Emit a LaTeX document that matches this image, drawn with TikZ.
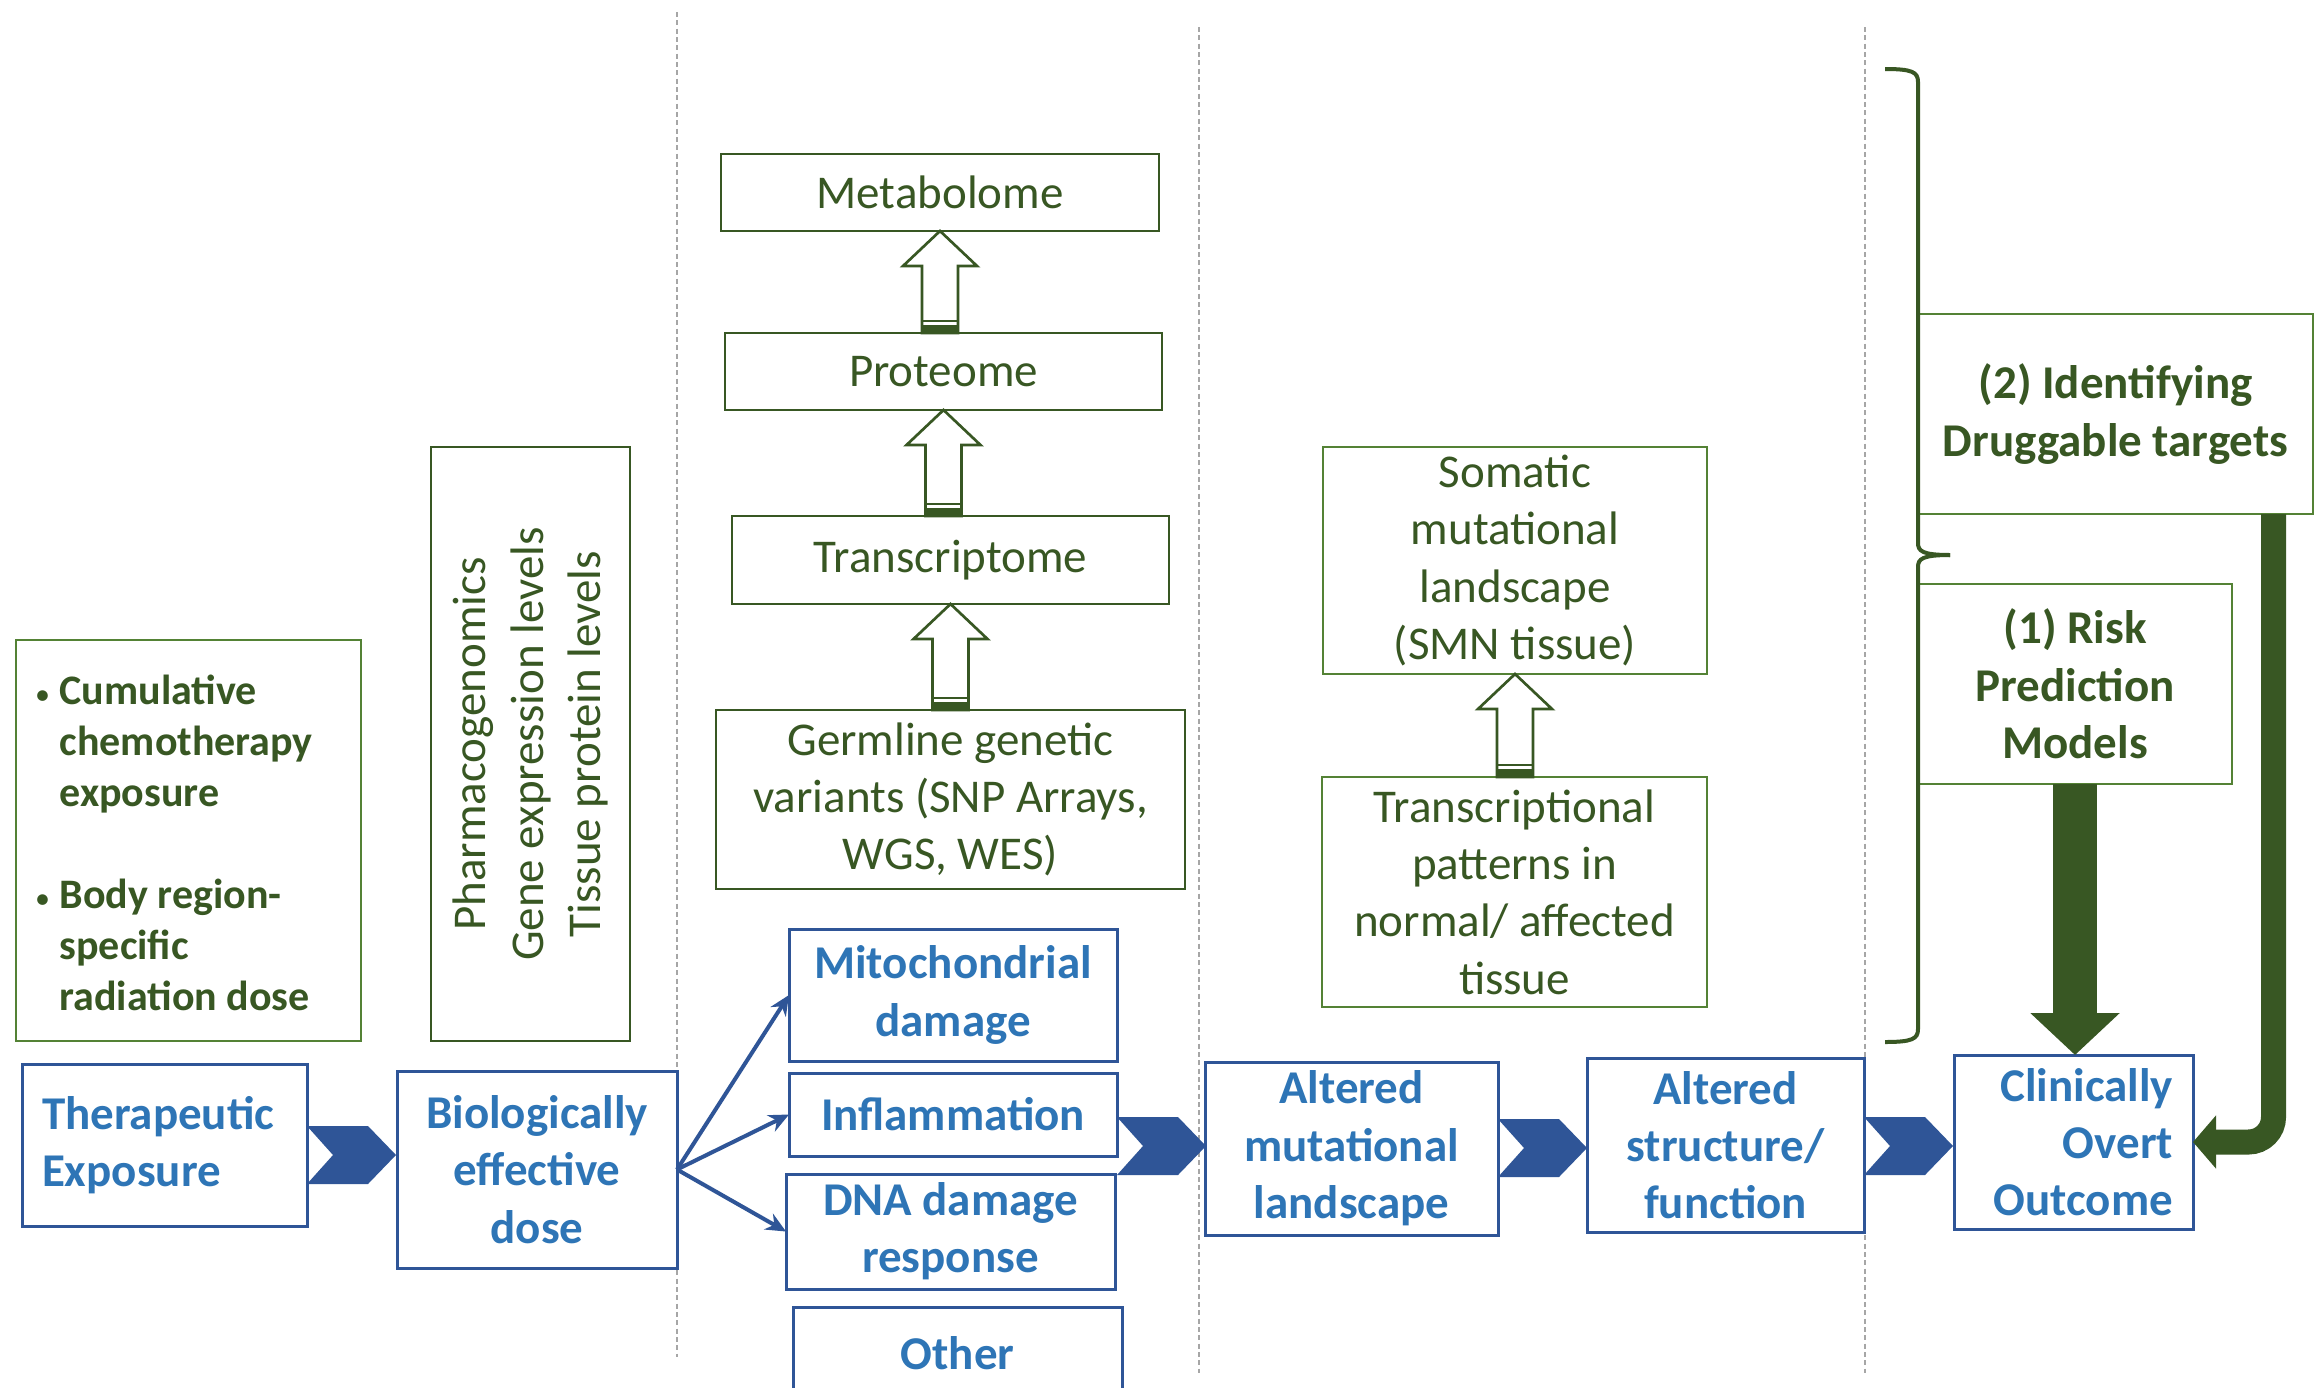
\documentclass[tikz,border=0pt]{standalone}
\usepackage{fontspec}
\setmainfont{Carlito}
\usetikzlibrary{arrows.meta}
\definecolor{bluebd}{HTML}{2F5597}
\definecolor{bluetx}{HTML}{2E75B6}
\definecolor{dgreen}{HTML}{385723}
\definecolor{lgreen}{HTML}{548235}
\definecolor{dashg}{HTML}{A6A6A6}
\newcommand\mainsize{\fontsize{14.1pt}{17.2pt}\selectfont}
\newcommand\bulsize{\fontsize{12.6pt}{15.3pt}\selectfont}
\newcommand\boxat[7]{\node[#1,minimum width={(#5-#3)*0.3pt},minimum height={(#6-#4)*0.3pt}] (#2) at ({(#3+#5)/2},{(#4+#6)/2}) {#7};}
\newcommand\chev[1]{\fill[chevst] (#1) ++(0,-29) -- ++(61,0) -- ++(28,29) -- ++(-28,29) -- ++(-61,0) -- ++(26,-29) -- cycle;}
\newcommand\hollowup[2]{\begin{scope}[shift={(#1.south)}]
\filldraw[hollowst] (0,0) -- (37,35) -- (18,35) -- (18,#2) -- (-18,#2) -- (-18,35) -- (-37,35) -- cycle;
\fill[dgreen] (-18,{#2-8}) rectangle (18,#2);
\draw[dgreen, line width=0.6pt] (-18,{#2-12}) -- (18,{#2-12});
\end{scope}}
\tikzset{
 every node/.style={inner sep=0pt, outer sep=0pt},
 bluebox/.style={draw=bluebd, line width=0.9pt, fill=white, text=bluetx, font=\bfseries\mainsize, align=center},
 omicbox/.style={draw=dgreen, line width=0.8pt, fill=white, text=dgreen, font=\mainsize, align=center},
 lgbox/.style={draw=lgreen, line width=0.8pt, fill=white, text=dgreen, font=\mainsize, align=center},
 aimbox/.style={draw=lgreen, line width=0.8pt, fill=white, text=dgreen, font=\bfseries\mainsize, align=center},
 chevst/.style={fill=bluebd},
 hollowst/.style={draw=dgreen, line width=0.8pt, fill=white},
 sepline/.style={draw=dashg, line width=0.6pt, dash pattern=on 1.5pt off 1pt},
 smallarr/.style={draw=bluebd, line width=1.2pt, -{Stealth[length=6pt,width=5.4pt]}},
 bigdown/.style={draw=dgreen, line width=13.2pt, -{Triangle[length=12.6pt,width=26.1pt]}},
 bentarr/.style={draw=dgreen, line width=7.5pt, rounded corners=7.5pt, -{Triangle[length=6.9pt,width=15.6pt]}},
 bracest/.style={draw=dgreen, line width=1.2pt}
}
\begin{document}
\begin{tikzpicture}[x=0.3pt,y=-0.3pt]
\useasboundingbox (0,0) rectangle (2323,1387);
\fill[white] (0,0) rectangle (2323,1387);
% separators
\draw[sepline] (677,12) -- (677,1357);
\draw[sepline] (1199,27) -- (1199,1373);
\draw[sepline] (1865,27) -- (1865,1373);
% column 1
\boxat{lgbox}{expbox}{16}{640}{361}{1041}{}
\node[anchor=base west, text=dgreen, font=\bfseries\bulsize] (bul) at (35,704) {\begin{tabular}[t]{@{}p{7.4pt}@{}l@{}}{\mdseries\small •}&Cumulative\\&chemotherapy\\&exposure\\[15.3pt]{\mdseries\small •}&Body region-\\&specific\\&radiation dose\end{tabular}};
\node[omicbox, rotate=90, minimum width=178.2pt, minimum height=59.7pt] (pharm) at (530.5,744) {Pharmacogenomics\\Gene expression levels\\Tissue protein levels};
\node[bluebox, align=left, text width=73.5pt, inner xsep=6pt, minimum height=48.6pt] (ther) at (164.5,1145) {Therapeutic\\Exposure};
\boxat{bluebox}{bio}{397}{1071}{677}{1268}{Biologically\\effective\\dose}
% omics column
\boxat{omicbox}{meta}{721}{154}{1159}{231}{Metabolome}
\boxat{omicbox}{prot}{725}{333}{1162}{410}{Proteome}
\boxat{omicbox}{trans}{732}{516}{1169}{604}{Transcriptome}
\boxat{omicbox}{germ}{716}{710}{1185}{889}{Germline genetic\\variants (SNP Arrays,\\WGS, WES)}
\hollowup{meta}{102}
\hollowup{prot}{106}
\hollowup{trans}{106}
% mechanisms
\boxat{bluebox}{mito}{789}{929}{1117}{1061}{Mitochondrial\\damage}
\boxat{bluebox}{infl}{789}{1073}{1117}{1156}{Inflammation}
\boxat{bluebox}{dna}{786}{1174}{1115}{1289}{DNA damage\\response}
\boxat{bluebox}{other}{793}{1307}{1122}{1400}{Other}
\draw[smallarr] (bio.east) -- (mito.west);
\draw[smallarr] (bio.east) -- (infl.west);
\draw[smallarr] (bio.east) -- (dna.west);
% column 4
\boxat{lgbox}{som}{1323}{447}{1707}{674}{Somatic\\mutational\\landscape\\(SMN tissue)}
\boxat{lgbox}{tpat}{1322}{777}{1707}{1007}{Transcriptional\\patterns in\\normal/ affected\\tissue}
\hollowup{som}{103}
\boxat{bluebox}{altm}{1205}{1062}{1498}{1235}{Altered\\mutational\\landscape}
\boxat{bluebox}{alts}{1587}{1058}{1864}{1232}{Altered\\structure/\\function}
\node[bluebox, align=right, text width=59.7pt, inner xsep=6pt, minimum height=52.2pt] (clin) at (2073.5,1142) {Clinically\\Overt\\Outcome};
% chevrons
\chev{ther.east |- 0,1155}
\chev{infl.east |- 0,1146}
\chev{altm.east |- 0,1148}
\chev{alts.east |- 0,1146}
% aims
\boxat{aimbox}{iden}{1918}{314}{2313}{514}{(2) Identifying\\Druggable targets}
\boxat{aimbox}{risk}{1918}{584}{2232}{784}{(1) Risk\\Prediction\\Models}
\draw[bracest] (1885,69) .. controls (1912,69) and (1918,72) .. (1918,82) -- (1918,543) .. controls (1918,551) and (1922,555) .. (1950,555);
\draw[bracest] (1950,555) .. controls (1922,555) and (1918,559) .. (1918,567) -- (1918,1029) .. controls (1918,1039) and (1912,1042) .. (1885,1042);
\draw[bigdown] (risk.south) -- (risk.south |- clin.north);
\draw[bentarr] (iden.south -| 2273.5,0) |- (clin.east);
\end{tikzpicture}
\end{document}
